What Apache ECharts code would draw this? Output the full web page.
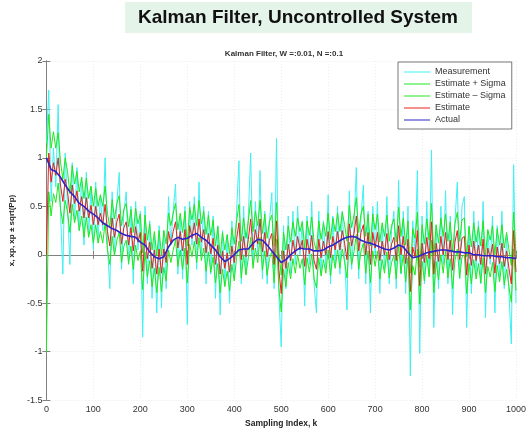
<!DOCTYPE html>
<html>
<head>
<meta charset="utf-8">
<script src="https://cdn.jsdelivr.net/npm/echarts@6/dist/echarts.min.js"></script>
<style>
html,body{margin:0;padding:0;background:#fff;}
#chart{width:530px;height:433px;}
</style>
</head>
<body>
<div id="chart"></div>
<script>
const kStep = 5;
const measurement = [
1.15,1.7,0.55,1.1,0.7,1.55,0.45,-0.2,1.05,0.5,
-0.1,0.95,0.35,0.9,0.25,0.8,0.1,0.85,0.2,0.7,
0.05,0.75,0.15,0.6,0.25,1.0,0.1,-0.35,0.65,0.0,
0.55,0.85,-0.15,0.45,0.65,-0.1,0.5,-0.3,0.55,0.05,
0.45,-0.85,0.5,-0.3,0.35,-0.45,0.2,-0.6,0.3,-0.55,
0.25,-0.35,0.6,0.1,0.45,0.73,-0.2,0.4,-0.25,0.5,
-0.72,0.55,0.1,0.6,-0.15,0.75,0.0,0.5,-0.3,0.45,
-0.2,0.4,-0.45,0.3,-0.62,0.25,-0.3,0.2,-0.5,0.35,
-0.25,0.45,0.97,-0.3,0.5,-0.2,0.4,1.05,-0.1,0.55,
0.0,0.87,-0.25,0.45,-0.3,0.35,0.64,-0.35,1.2,-0.4,
-0.95,0.3,-0.35,0.4,-0.2,0.45,-0.1,0.5,0.0,0.35,
-0.53,0.4,-0.1,0.55,-0.3,-0.6,0.45,-0.2,0.35,-0.15,
0.62,-0.3,0.4,-0.1,0.5,-0.2,0.45,0.0,-0.57,0.66,
-0.15,0.3,0.9,-0.25,0.4,0.72,-0.3,0.45,-0.6,0.5,
0.0,0.55,-0.4,0.3,-0.15,0.6,-0.3,0.25,0.45,-0.35,
0.77,-0.2,0.45,-0.4,0.5,-1.25,0.35,0.0,0.87,-1.02,
0.4,-0.3,0.55,-0.2,1.08,-0.75,0.3,-0.35,0.5,-0.1,
0.66,-0.3,0.4,-0.62,0.35,0.75,-0.25,0.5,0.6,-0.75,
0.3,-0.4,0.45,-0.2,0.35,-0.3,0.55,-0.65,0.25,-0.1,
0.4,-0.6,0.3,-0.25,0.45,-0.35,0.2,-0.4,-0.92,0.93,-0.5
];
const estimate = [
0,1.05,0.75,0.95,0.82,1.0,0.72,0.55,0.78,0.65,
0.43,0.72,0.53,0.66,0.45,0.6,0.38,0.59,0.38,0.51,
0.31,0.5,0.31,0.43,0.31,0.52,0.24,0.09,0.38,0.18,
0.34,0.42,0.11,0.28,0.34,0.1,0.28,0.04,0.29,0.13,
0.23,-0.17,0.22,-0.04,0.13,-0.14,0.05,-0.2,0.06,-0.19,
0.06,-0.08,0.24,0.11,0.24,0.34,0.07,0.24,0.04,0.26,
-0.1,0.3,0.17,0.33,0.11,0.37,0.13,0.26,0.02,0.22,
0.01,0.17,-0.1,0.1,-0.2,0.04,-0.14,0.02,-0.18,0.09,
-0.08,0.16,0.33,-0.05,0.19,-0.02,0.16,0.37,0.05,0.26,
0.11,0.37,0.03,0.23,-0.02,0.15,0.22,-0.1,0.35,-0.15,
-0.4,0.04,-0.14,0.11,-0.06,0.15,0.0,0.19,0.05,0.15,
-0.12,0.16,0.01,0.2,-0.06,-0.15,0.16,-0.03,0.14,0.0,
0.24,-0.03,0.19,0.05,0.24,0.05,0.25,0.12,-0.05,0.32,
0.09,0.22,0.4,0.04,0.23,0.31,0.0,0.23,-0.1,0.23,
0.07,0.23,-0.06,0.14,0.0,0.22,-0.05,0.11,0.18,-0.06,
0.3,0.0,0.19,-0.09,0.16,-0.38,0.08,-0.02,0.25,-0.32,
0.12,-0.08,0.18,-0.04,0.34,-0.2,0.12,-0.07,0.19,0.0,
0.23,-0.05,0.15,-0.16,0.13,0.25,-0.05,0.17,0.19,-0.21,
0.1,-0.11,0.14,-0.06,0.1,-0.1,0.16,-0.2,0.07,-0.04,
0.11,-0.19,0.08,-0.09,0.12,-0.12,0.04,-0.14,-0.3,0.25,-0.18
];
const estPlusSigma = [
1.0,1.45,1.1,1.27,1.1,1.26,0.96,0.78,1.0,0.86,
0.63,0.92,0.73,0.86,0.65,0.8,0.58,0.79,0.58,0.71,
0.5,0.69,0.5,0.62,0.5,0.71,0.43,0.28,0.57,0.37,
0.53,0.61,0.3,0.47,0.53,0.29,0.47,0.23,0.48,0.32,
0.42,0.02,0.41,0.15,0.32,0.05,0.24,-0.01,0.25,0.0,
0.25,0.11,0.43,0.3,0.43,0.53,0.26,0.43,0.23,0.45,
0.09,0.49,0.36,0.52,0.3,0.56,0.32,0.45,0.21,0.41,
0.2,0.36,0.09,0.29,-0.01,0.23,0.05,0.21,0.01,0.28,
0.11,0.35,0.52,0.14,0.38,0.17,0.35,0.56,0.24,0.45,
0.3,0.56,0.22,0.42,0.17,0.34,0.41,0.09,0.54,0.04,
-0.21,0.23,0.05,0.3,0.13,0.34,0.19,0.38,0.24,0.34,
0.07,0.35,0.2,0.39,0.13,0.04,0.35,0.16,0.33,0.19,
0.43,0.16,0.38,0.24,0.43,0.24,0.44,0.31,0.14,0.51,
0.28,0.41,0.59,0.23,0.42,0.5,0.19,0.42,0.09,0.42,
0.26,0.42,0.13,0.33,0.19,0.41,0.14,0.3,0.37,0.13,
0.49,0.19,0.38,0.1,0.35,-0.19,0.27,0.17,0.44,-0.13,
0.31,0.11,0.37,0.15,0.53,-0.01,0.31,0.12,0.38,0.19,
0.42,0.14,0.34,0.03,0.32,0.44,0.14,0.36,0.38,-0.02,
0.29,0.08,0.33,0.13,0.29,0.09,0.35,-0.01,0.26,0.15,
0.3,0.0,0.27,0.1,0.31,0.07,0.23,0.05,-0.11,0.44,0.01
];
const estMinusSigma = [
-1.0,0.65,0.4,0.63,0.54,0.74,0.48,0.32,0.56,0.44,
0.23,0.52,0.33,0.46,0.25,0.4,0.18,0.39,0.18,0.31,
0.12,0.31,0.12,0.24,0.12,0.33,0.05,-0.1,0.19,-0.01,
0.15,0.23,-0.08,0.09,0.15,-0.09,0.09,-0.15,0.1,-0.06,
0.04,-0.36,0.03,-0.23,-0.06,-0.33,-0.14,-0.39,-0.13,-0.38,
-0.13,-0.27,0.05,-0.08,0.05,0.15,-0.12,0.05,-0.15,0.07,
-0.29,0.11,-0.02,0.14,-0.08,0.18,-0.06,0.07,-0.17,0.03,
-0.18,-0.02,-0.29,-0.09,-0.39,-0.15,-0.33,-0.17,-0.37,-0.1,
-0.27,-0.03,0.14,-0.24,0.0,-0.21,-0.03,0.18,-0.14,0.07,
-0.08,0.18,-0.16,0.04,-0.21,-0.04,0.03,-0.29,0.16,-0.34,
-0.59,-0.15,-0.33,-0.08,-0.25,-0.04,-0.19,0.0,-0.14,-0.04,
-0.31,-0.03,-0.18,0.01,-0.25,-0.34,-0.03,-0.22,-0.05,-0.19,
0.05,-0.22,0.0,-0.14,0.05,-0.14,0.06,-0.07,-0.24,0.13,
-0.1,0.03,0.21,-0.15,0.04,0.12,-0.19,0.04,-0.29,0.04,
-0.12,0.04,-0.25,-0.05,-0.19,0.03,-0.24,-0.08,-0.01,-0.25,
0.11,-0.19,0.0,-0.28,-0.03,-0.57,-0.11,-0.21,0.06,-0.51,
-0.07,-0.27,-0.01,-0.23,0.15,-0.39,-0.07,-0.26,0.0,-0.19,
0.04,-0.24,-0.04,-0.35,-0.06,0.06,-0.24,-0.02,0.0,-0.4,
-0.09,-0.3,-0.05,-0.25,-0.09,-0.29,-0.03,-0.39,-0.12,-0.23,
-0.08,-0.38,-0.11,-0.28,-0.07,-0.31,-0.15,-0.33,-0.49,0.06,-0.37
];
const actualStep = 10;
const actual = [
1.0,0.88,0.86,0.8,0.72,0.65,0.6,0.53,0.5,0.45,
0.42,0.38,0.33,0.3,0.27,0.25,0.22,0.2,0.19,0.18,
0.13,0.1,0.03,-0.02,-0.04,-0.02,0.08,0.15,0.18,0.16,
0.17,0.2,0.22,0.18,0.15,0.1,0.05,-0.02,-0.07,-0.04,
0.0,0.05,0.06,0.06,0.12,0.16,0.15,0.1,0.04,-0.02,
-0.08,-0.05,0.0,0.04,0.07,0.06,0.06,0.04,0.04,0.05,
0.08,0.1,0.13,0.16,0.18,0.19,0.18,0.15,0.13,0.12,
0.1,0.08,0.06,0.05,0.07,0.1,0.08,0.02,-0.03,-0.02,
0.0,0.02,0.03,0.04,0.05,0.05,0.04,0.03,0.03,0.02,
0.02,0.0,0.0,-0.01,-0.01,-0.01,-0.02,-0.02,-0.03,-0.03,-0.04
];
const seriesNames = ['Measurement','Estimate + Sigma','Estimate \u2013 Sigma','Estimate','Actual'];
const xMin = 0, xMax = 1000, xInterval = 100;
const yMin = -1.5, yMax = 2, yInterval = 0.5;

const FONT = "'Liberation Sans', Arial, Helvetica, sans-serif";
const pairs = (arr, step) => arr.map((v, i) => [i * step, v]);

const chart = echarts.init(document.getElementById('chart'), null, {renderer: 'canvas'});

const axisCommon = {
  axisLine: {show: true, lineStyle: {color: '#808080', width: 1}},
  axisTick: {show: true, inside: true, length: 4, lineStyle: {color: '#808080'}},
};

const lineSeries = (name, data, color, width, z) => ({
  name, type: 'line', data, showSymbol: false, symbol: 'none',
  lineStyle: {color, width}, itemStyle: {color}, z, animation: false,
  emphasis: {disabled: true}, sampling: null
});

chart.setOption({
  animation: false,
  backgroundColor: '#ffffff',
  textStyle: {fontFamily: FONT},
  graphic: [
    {type: 'rect', shape: {x: 125, y: 2, width: 347, height: 31}, style: {fill: '#e4f4e9'}, z: 0},
    {type: 'text', style: {text: 'Kalman Filter, Uncontrolled System', x: 298, y: 18, textAlign: 'center', textVerticalAlign: 'middle', font: "bold 19px 'Liberation Sans', Arial, sans-serif", fill: '#111'}, z: 1}
  ],
  title: {
    text: 'Kalman Filter, W =:0.01, N =:0.1',
    left: 279, top: 45, textAlign: 'center',
    textStyle: {fontSize: 8, fontWeight: 'bold', color: '#333', fontFamily: FONT}
  },
  legend: {
    data: seriesNames,
    orient: 'vertical',
    left: 398, top: 62,
    icon: 'path://M0,0h26v1h-26z',
    itemWidth: 26, itemHeight: 1.2, itemGap: 0,
    padding: [4, 6, 3, 6],
    backgroundColor: '#fff',
    borderColor: '#555', borderWidth: 0.8,
    textStyle: {fontSize: 9, lineHeight: 12, color: '#333', fontFamily: FONT},
    selectedMode: false
  },
  grid: {left: 43, right: 14, top: 61, bottom: 24, containLabel: false},
  xAxis: [
    Object.assign({
      type: 'value', min: xMin, max: xMax, interval: xInterval, position: 'bottom',
      name: 'Sampling Index, k', nameLocation: 'middle', nameGap: 17,
      nameTextStyle: {fontSize: 8.5, fontWeight: 'bold', color: '#222', fontFamily: FONT},
      axisLabel: {fontSize: 9, color: '#333', margin: 5, fontFamily: FONT, formatter: v => String(v)},
      splitLine: {show: true, lineStyle: {color: '#ececec', type: [1, 2], width: 1}}
    }, axisCommon),
    Object.assign({
      type: 'value', min: xMin, max: xMax, interval: xInterval, position: 'top',
      axisLabel: {show: false}, splitLine: {show: false}
    }, axisCommon)
  ],
  yAxis: [
    Object.assign({
      type: 'value', min: yMin, max: yMax, interval: yInterval, position: 'left',
      name: 'x, xp, xp \u00b1 sqrt(Pp)', nameLocation: 'middle', nameGap: 21, nameRotate: 90,
      nameTextStyle: {fontSize: 8, fontWeight: 'bold', color: '#222', fontFamily: FONT},
      axisLabel: {fontSize: 9, color: '#333', margin: 4, fontFamily: FONT},
      splitLine: {show: true, lineStyle: {color: '#ececec', type: [1, 2], width: 1}}
    }, axisCommon),
    Object.assign({
      type: 'value', min: yMin, max: yMax, interval: yInterval, position: 'right',
      axisLabel: {show: false}, splitLine: {show: false}
    }, axisCommon)
  ],
  series: [
    lineSeries(seriesNames[0], pairs(measurement, kStep), '#3ff0f2', 1, 2),
    lineSeries(seriesNames[1], pairs(estPlusSigma, kStep), '#1fe81f', 1, 3),
    lineSeries(seriesNames[2], pairs(estMinusSigma, kStep), '#1fe81f', 1, 3),
    lineSeries(seriesNames[3], pairs(estimate, kStep), '#e8201a', 1, 4),
    lineSeries(seriesNames[4], pairs(actual, actualStep), '#2b25c8', 1.6, 5)
  ]
});
</script>
</body>
</html>
